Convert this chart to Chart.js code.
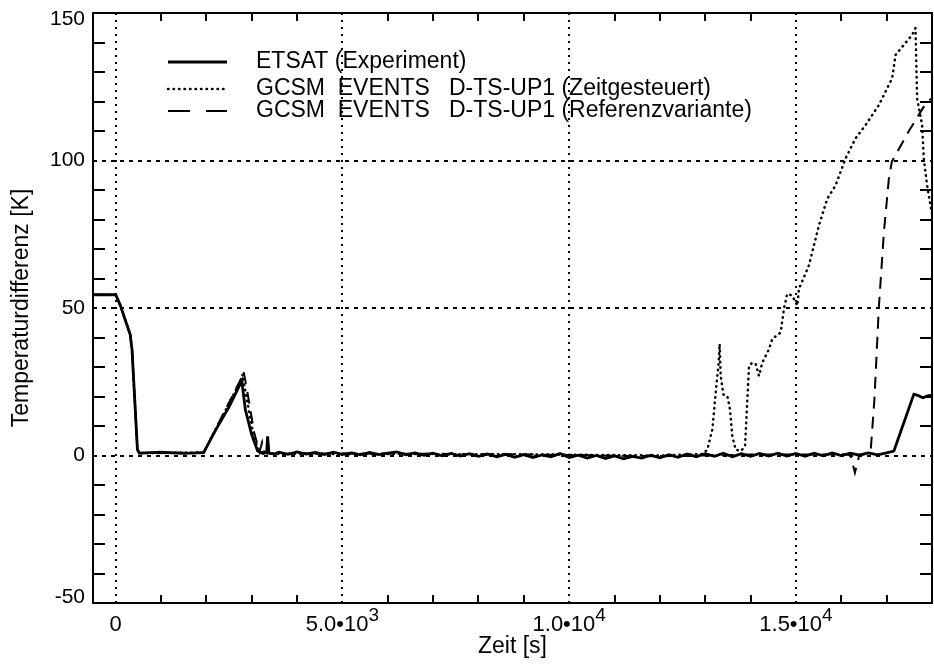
<!DOCTYPE html>
<html>
<head>
<meta charset="utf-8">
<script src="https://cdn.jsdelivr.net/npm/chart.js@4.4.1/dist/chart.umd.min.js"></script>
<style>
  body { margin: 0; background: #fff; }
  #wrap { width: 934px; height: 670px; }
</style>
</head>
<body>
<div id="wrap"><canvas id="tempChart" width="934" height="670"></canvas></div>
<script>
// ETSAT (Experiment) - measured curve
const etsatTime = [-500, 0, 100, 320, 360, 480, 520, 1000, 1500, 1940, 2200, 2500, 2780, 2860, 3000, 3130, 3250, 3330, 3350, 3380, 3500,
  3600, 3800, 4000, 4200, 4400, 4600, 4800, 5000, 5200, 5400, 5600, 5800, 6000, 6200, 6400, 6600, 6800, 7000, 7200, 7400,
  7600, 7800, 8000, 8200, 8400, 8600, 8800, 9000, 9200, 9400, 9600, 9800, 10000, 10200, 10400, 10600, 10800, 11000, 11200,
  11400, 11600, 11800, 12000, 12200, 12400, 12600, 12800, 13000, 13200, 13400, 13600, 13800, 14000, 14200, 14400, 14600,
  14800, 15000, 15200, 15400, 15600, 15800, 16000, 16200, 16400, 16600, 16800, 17000, 17160, 17600, 17700, 17800, 17900, 18000];
const etsatTemp = [54.5, 54.5, 51, 41, 36, 2, 0.8, 1.1, 0.7, 1.0, 8.5, 16.5, 25.3, 15.5, 7, 1.5, 0.7, 1.1, 6.5, 0.8, 0.5,
  1.1, 0.4, 1.2, 0.5, 1.0, 0.3, 1.1, 0.4, 0.9, 0.2, 1.0, 0.3, 0.8, 1.2, 0.2, 0.9, 0.1, 0.8, -0.1, 0.7,
  -0.2, 0.6, -0.3, 0.5, -0.4, 0.4, -0.6, 0.3, -0.7, 0.2, -0.4, 0.7, -0.7, 0.1, -0.9, 0.0, -1.0, -0.1, -1.1,
  -0.3, -0.9, 0.1, -0.8, 0.3, -0.6, 0.5, -0.4, 0.6, -0.3, 0.8, -0.4, 0.6, -0.3, 0.7, -0.2, 0.8,
  -0.2, 0.7, -0.3, 0.8, -0.1, 0.9, 0.0, 0.8, 0.1, 0.9, 0.2, 0.9, 1.5, 20.8, 20.3, 19.6, 20.2, 20.5];

// GCSM EVENTS D-TS-UP1 (Zeitgesteuert)
const zeitTime = [-500, 0, 100, 320, 360, 480, 520, 1940, 2780, 2800, 2880, 3050, 3170, 3500, 6000, 9000, 12000, 12950,
  13046, 13157, 13245, 13290, 13318, 13340, 13400, 13487, 13546, 13597, 13670, 13780, 13877, 13928, 13965, 14038, 14112,
  14185, 14258, 14405, 14478, 14663, 14735, 14808, 14918, 15029, 15066, 15286, 15507, 15690, 15874, 16094, 16314, 16535,
  16828, 17122, 17196, 17379, 17562, 17636, 17672, 17782, 17819, 17892, 17966, 18000];
const zeitTemp = [54.5, 54.5, 51, 41, 36, 2, 0.8, 1.0, 26, 27.5, 20, 6, 1.2, 0.6, 0.5, 0.4, 0, 0.5,
  2, 8.8, 23.6, 30.4, 37.8, 27, 20.7, 20.2, 15.6, 6.6, 2, 1.5, 3, 19, 30.4, 31.5, 31,
  27, 31.5, 36, 39.5, 41.7, 49.7, 54.8, 54.2, 50.8, 56.5, 64.4, 78, 87, 91.6, 100.7, 107.5, 112,
  118.8, 127.9, 135.8, 139.2, 142.6, 144.9, 121, 112, 100.7, 91.6, 84.8, 82];

// GCSM EVENTS D-TS-UP1 (Referenzvariante)
const refTime = [-500, 0, 100, 320, 360, 480, 520, 1940, 2780, 2820, 2900, 3050, 3170, 3230, 3280, 3500, 5000, 8000, 10000,
  12000, 14000, 16000, 16200, 16300, 16400, 16600, 16650, 16730, 16830, 16940, 17050, 17115, 17490, 17890, 18000];
const refTemp = [54.5, 54.5, 51, 41, 36, 2, 0.8, 1.0, 26.5, 28.5, 22, 8, 1.2, 4.5, 0.8, 0.6, 0.7, 0.5, 0.2,
  -0.3, 0.3, 0.4, 0.2, -5.8, 0.3, 0.8, 2, 19, 50.7, 75.8, 94, 99.6, 110, 120, 121];

const seriesLabels = ['ETSAT (Experiment)', 'GCSM  EVENTS   D-TS-UP1 (Zeitgesteuert)', 'GCSM  EVENTS   D-TS-UP1 (Referenzvariante)'];
const xTickValues = [0, 5000, 10000, 15000];
const yTickValues = [-50, 0, 50, 100, 150];

const FONT = "'Liberation Sans', Arial, Helvetica, sans-serif";

function toPoints(ts, vs) {
  return ts.map((t, i) => ({ x: t, y: vs[i] }));
}

function xLabelParts(v) {
  if (v === 0) return ['0', ''];
  const exp = Math.floor(Math.log10(v));
  const mant = v / Math.pow(10, exp);
  return [mant.toFixed(1) + '\u202210', String(exp)];
}

// gridlines, inner ticks, border, tick labels and legend
const frame = {
  id: 'frame',
  beforeDatasetsDraw(chart) {
    const { ctx, chartArea: a, scales: { x, y } } = chart;
    ctx.save();
    ctx.strokeStyle = '#000';
    ctx.lineWidth = 2;
    ctx.setLineDash([2, 5]);
    xTickValues.forEach(v => {
      const px = Math.round(x.getPixelForValue(v));
      ctx.beginPath(); ctx.moveTo(px, a.top); ctx.lineTo(px, a.bottom); ctx.stroke();
    });
    ctx.setLineDash([4, 5]);
    yTickValues.filter(v => v > y.min && v < y.max).forEach(v => {
      const py = Math.round(y.getPixelForValue(v));
      ctx.beginPath(); ctx.moveTo(a.left, py); ctx.lineTo(a.right, py); ctx.stroke();
    });
    ctx.restore();
  },
  afterDraw(chart) {
    const { ctx, chartArea: a, scales: { x, y } } = chart;
    ctx.save();
    ctx.strokeStyle = '#000';
    ctx.setLineDash([]);
    ctx.lineWidth = 2;
    // minor ticks, pointing inward
    for (let t = 1000; t < x.max; t += 1000) {
      if (xTickValues.includes(t)) continue;
      const px = Math.round(x.getPixelForValue(t));
      ctx.beginPath();
      ctx.moveTo(px, a.bottom); ctx.lineTo(px, a.bottom - 8);
      ctx.moveTo(px, a.top); ctx.lineTo(px, a.top + 8);
      ctx.stroke();
    }
    for (let v = -40; v < y.max; v += 10) {
      if (yTickValues.includes(v)) continue;
      const py = Math.round(y.getPixelForValue(v));
      ctx.beginPath();
      ctx.moveTo(a.left, py); ctx.lineTo(a.left + 12, py);
      ctx.moveTo(a.right, py); ctx.lineTo(a.right - 12, py);
      ctx.stroke();
    }
    // frame
    ctx.strokeRect(a.left, a.top, a.right - a.left, a.bottom - a.top);

    ctx.fillStyle = '#000';
    // y tick labels, kept inside the frame height like the original
    ctx.font = '21px ' + FONT;
    ctx.textAlign = 'right';
    ctx.textBaseline = 'middle';
    yTickValues.forEach(v => {
      const py = Math.min(Math.max(y.getPixelForValue(v), a.top + 6), a.bottom - 6);
      ctx.fillText(String(v), a.left - 8, py);
    });

    // x tick labels with superscript exponent
    ctx.textBaseline = 'alphabetic';
    ctx.textAlign = 'left';
    xTickValues.forEach(v => {
      const [main, sup] = xLabelParts(v);
      ctx.font = '22px ' + FONT;
      const w1 = ctx.measureText(main).width;
      ctx.font = '19px ' + FONT;
      const w2 = sup ? ctx.measureText(sup).width : 0;
      const left = x.getPixelForValue(v) - (w1 + w2) / 2;
      ctx.font = '22px ' + FONT;
      ctx.fillText(main, left, 631);
      if (sup) {
        ctx.font = '19px ' + FONT;
        ctx.fillText(sup, left + w1, 621);
      }
    });

    // legend
    const rows = [62, 89, 111];
    ctx.font = '23px ' + FONT;
    ctx.textBaseline = 'middle';
    chart.data.datasets.forEach((ds, i) => {
      ctx.save();
      ctx.lineWidth = ds.borderWidth;
      ctx.lineCap = ds.borderCapStyle || 'butt';
      ctx.setLineDash(i === 2 ? [22, 16] : (ds.borderDash || []));
      ctx.beginPath();
      ctx.moveTo(168, rows[i]); ctx.lineTo(227, rows[i]);
      ctx.stroke();
      ctx.restore();
      ctx.fillText(ds.label, 256, rows[i]);
    });
    ctx.restore();
  }
};

const ctx = document.getElementById('tempChart').getContext('2d');
const tempChart = new Chart(ctx, {
  type: 'line',
  data: {
    datasets: [{
      label: seriesLabels[0],
      data: toPoints(etsatTime, etsatTemp),
      borderColor: '#000',
      borderWidth: 2.8,
      pointRadius: 0,
      tension: 0
    }, {
      label: seriesLabels[1],
      data: toPoints(zeitTime, zeitTemp),
      borderColor: '#000',
      borderWidth: 2.5,
      borderDash: [0.5, 5],
      borderCapStyle: 'round',
      pointRadius: 0,
      tension: 0
    }, {
      label: seriesLabels[2],
      data: toPoints(refTime, refTemp),
      borderColor: '#000',
      borderWidth: 2,
      borderDash: [12, 8],
      pointRadius: 0,
      tension: 0
    }]
  },
  options: {
    responsive: false,
    animation: false,
    layout: { padding: { top: 13, right: 2, left: 0, bottom: 0 } },
    plugins: { legend: { display: false }, tooltip: { enabled: false } },
    scales: {
      x: {
        type: 'linear',
        min: -500,
        max: 18000,
        grid: { display: false },
        border: { display: false },
        ticks: { display: false },
        afterFit: s => { s.height = 67; },
        title: {
          display: true,
          text: 'Zeit [s]',
          color: '#000',
          font: { family: FONT, size: 23 },
          padding: { top: 0, bottom: 10 }
        }
      },
      y: {
        min: -50,
        max: 150,
        grid: { display: false },
        border: { display: false },
        ticks: { display: false },
        afterFit: s => { s.width = 93; },
        title: {
          display: true,
          text: 'Temperaturdifferenz [K]',
          color: '#000',
          font: { family: FONT, size: 23 },
          padding: { top: 8, bottom: 0 }
        }
      }
    }
  },
  plugins: [frame]
});
</script>
</body>
</html>
